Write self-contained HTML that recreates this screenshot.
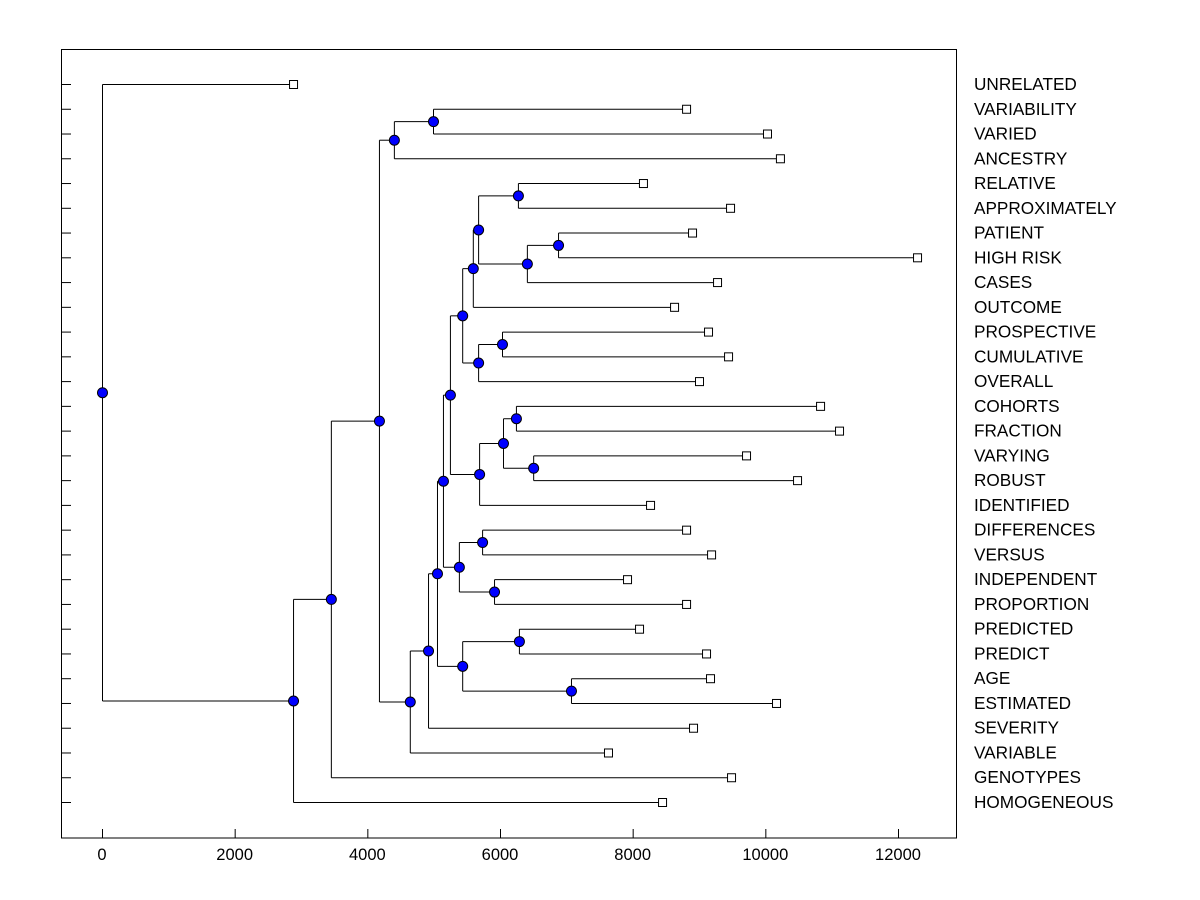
<!DOCTYPE html>
<html><head><meta charset="utf-8"><style>
body{margin:0;background:#fff}
svg{display:block;font-family:"Liberation Sans",sans-serif}
</style></head><body>
<svg id="chart" width="1200" height="900" viewBox="0 0 1200 900" xmlns="http://www.w3.org/2000/svg">
<rect x="0" y="0" width="1200" height="900" fill="#fff"/>
<rect x="61.5" y="49.5" width="895" height="788.5" fill="none" stroke="#000"/>
<g id="g"></g>
</svg>
<script>
const labels=["UNRELATED","VARIABILITY","VARIED","ANCESTRY","RELATIVE","APPROXIMATELY","PATIENT","HIGH RISK","CASES","OUTCOME","PROSPECTIVE","CUMULATIVE","OVERALL","COHORTS","FRACTION","VARYING","ROBUST","IDENTIFIED","DIFFERENCES","VERSUS","INDEPENDENT","PROPORTION","PREDICTED","PREDICT","AGE","ESTIMATED","SEVERITY","VARIABLE","GENOTYPES","HOMOGENEOUS"];
const leafValues=[2880,8805,10025,10220,8155,9468,8895,12287,9272,8624,9136,9438,9000,10825,11111,9709,10478,8262,8805,9182,7915,8805,8096,9106,9166,10161,8910,7628,9483,8443];
const nodeNames=["root","nBig","nA","nB","nC","nE","nD","nF","nG","nH","nJ","nL","nN","nP","nQ","nR","nS","nO","nT","nM","nU","nV","nW","nK","nX","nY","nI","nZ","nAA"];
const nodeHeights=[0,2880,3450,4175,4400,4990,4640,4915,5050,5140,5245,5430,5590,5670,6270,6405,6875,5670,6030,5685,6045,6240,6500,5380,5730,5910,5430,6285,7070];
const nodeChildA=[0,"nA","nB","nC","nE",1,"nF","nG","nH","nJ","nL","nN","nP","nQ",4,"nS",6,"nT",10,"nU","nV",13,15,"nX",18,20,"nZ",22,24];
const nodeChildB=["nBig",29,28,"nD",3,2,27,26,"nI","nK","nM","nO",9,"nR",5,8,7,12,11,17,"nW",14,16,"nY",19,21,"nAA",23,25];
const xTicks=[0,2000,4000,6000,8000,10000,12000];

const X=v=>102+v*(796/12000);
const Y=i=>84+i*(718/29);
const g=document.getElementById('g');
const NS="http://www.w3.org/2000/svg";
function mk(t,a){const e=document.createElementNS(NS,t);for(const k in a)e.setAttribute(k,a[k]);g.appendChild(e);return e;}
labels.forEach((l,i)=>{
  const t=mk('line',{x1:61,x2:71,y1:Y(i)+0.5,y2:Y(i)+0.5,stroke:'#000'});
  
  
  const tx=mk('text',{x:974,y:Y(i)+6,'font-size':17.2,fill:'#000'});
  tx.textContent=l;
  
  
});
xTicks.forEach(v=>{
  const t=mk('line',{x1:X(v)+0.5,x2:X(v)+0.5,y1:829,y2:838,stroke:'#000'});
  
  
  const tx=mk('text',{x:X(v),y:860,'font-size':16.5,'text-anchor':'middle',fill:'#000'});
  tx.textContent=v;
  
  
});
const idx={};nodeNames.forEach((n,i)=>idx[n]=i);
function pos(c){
  if(typeof c==='number')return {x:X(leafValues[c]),y:Y(c),leaf:c};
  const i=idx[c];const a=pos(nodeChildA[i]),b=pos(nodeChildB[i]);
  return {x:X(nodeHeights[i]),y:(a.y+b.y)/2,a,b,name:c};
}
const lines=[],dots=[],sq=[];
function walk(p){
  if(p.leaf!==undefined){sq.push(p);return;}
  [p.a,p.b].forEach(c=>{lines.push([p.x,c.y,c.x,c.y]);walk(c);});
  lines.push([p.x,p.a.y,p.x,p.b.y]);
  dots.push(p);
}
walk(pos("root"));
lines.forEach(l=>{
  const e=mk('line',{x1:l[0]+0.5,y1:l[1]+0.5,x2:l[2]+0.5,y2:l[3]+0.5,stroke:'#000','stroke-width':1});
  
  
});
sq.forEach(p=>{
  const e=mk('rect',{x:p.x-3.5,y:p.y-3.5,width:8,height:8,fill:'#fff',stroke:'#000'});
  
  
});
dots.forEach(p=>{
  const e=mk('circle',{cx:p.x+0.5,cy:p.y+0.5,r:5,fill:'#0000ff',stroke:'#000','stroke-width':1});
  
  
});
</script>
</body></html>
